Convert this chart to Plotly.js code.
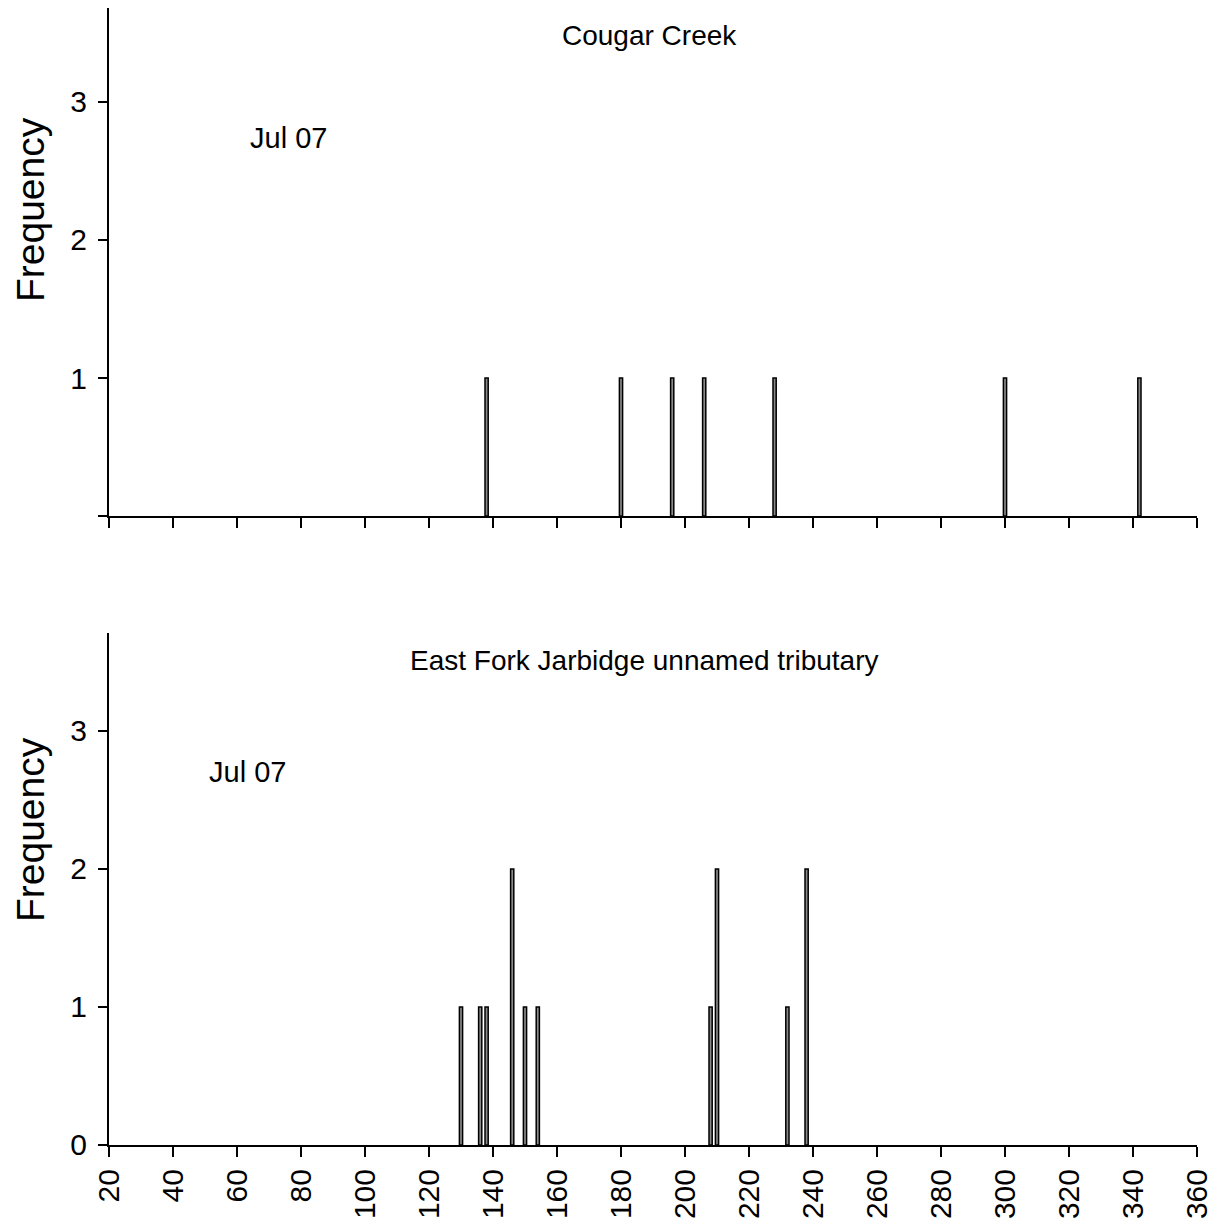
<!DOCTYPE html>
<html>
<head>
<meta charset="utf-8">
<script src="https://cdn.plot.ly/plotly-3.0.1.min.js"></script>
<style>html,body{margin:0;padding:0;background:#fff;}#chart{width:1219px;height:1232px;}</style>
</head>
<body>
<div id="chart"></div>
<script>
// Data
var cougarLengths = [138, 180, 196, 206, 228, 300, 342];
var cougarFreq    = [1, 1, 1, 1, 1, 1, 1];
var eastForkLengths = [130, 136, 138, 146, 150, 154, 208, 210, 232, 238];
var eastForkFreq    = [1, 1, 1, 2, 1, 1, 1, 2, 1, 2];
var xTickVals = [20,40,60,80,100,120,140,160,180,200,220,240,260,280,300,320,340,360];
var yTickValsTop = [0, 1, 2, 3];
var yTickTextTop = ['', '1', '2', '3'];
var yTickValsBottom = [0, 1, 2, 3];
var panelTitles = ['Cougar Creek', 'East Fork Jarbidge unnamed tributary'];
var dateLabel = 'Jul 07';
var yTitle = 'Frequency';

var FONT = 'Liberation Sans, Arial, sans-serif';
var barStyle = {color: '#8a8a8a', line: {color: '#000', width: 1.5}};

var traces = [
  {type: 'bar', x: cougarLengths, y: cougarFreq, width: 1, marker: barStyle, xaxis: 'x', yaxis: 'y', hoverinfo: 'x+y'},
  {type: 'bar', x: eastForkLengths, y: eastForkFreq, width: 1, marker: barStyle, xaxis: 'x2', yaxis: 'y2', hoverinfo: 'x+y'}
];

var xBase = {
  range: [20, 360], tickvals: xTickVals, showline: true, linecolor: '#000', linewidth: 2,
  ticks: 'outside', ticklen: 10, tickwidth: 2, tickcolor: '#000', showgrid: false, zeroline: false,
  tickfont: {family: FONT, size: 30, color: '#000'}, fixedrange: true
};
var yBase = {
  showline: true, linecolor: '#000', linewidth: 2, ticks: 'outside', ticklen: 9, tickwidth: 2,
  tickcolor: '#000', showgrid: false, zeroline: false, ticklabelstandoff: 5,
  tickfont: {family: FONT, size: 30, color: '#000'}, fixedrange: true
};

var annFont = {family: FONT, size: 28, color: '#000'};
var layout = {
  width: 1219, height: 1232,
  margin: {l: 109, r: 22, t: 8, b: 87},
  paper_bgcolor: '#fff', plot_bgcolor: '#fff',
  showlegend: false, bargap: 0,
  xaxis: Object.assign({}, xBase, {domain: [0, 1], anchor: 'y', showticklabels: false}),
  yaxis: Object.assign({}, yBase, {domain: [0.5532, 1], range: [0, 3.681], tickvals: yTickValsTop, ticktext: yTickTextTop, anchor: 'x'}),
  xaxis2: Object.assign({}, xBase, {domain: [0, 1], anchor: 'y2', tickangle: -90}),
  yaxis2: Object.assign({}, yBase, {domain: [0, 0.4503], range: [0, 3.71], tickvals: yTickValsBottom, anchor: 'x2'}),
  annotations: [
    {text: panelTitles[0], xref: 'paper', yref: 'paper', x: 0.497, y: 0.976, xanchor: 'center', yanchor: 'middle', showarrow: false, font: annFont},
    {text: panelTitles[1], xref: 'paper', yref: 'paper', x: 0.492, y: 0.426, xanchor: 'center', yanchor: 'middle', showarrow: false, font: annFont},
    {text: dateLabel, xref: 'x', yref: 'y', x: 63.5, y: 2.74, xanchor: 'left', yanchor: 'middle', showarrow: false, font: {family: FONT, size: 29, color: '#000'}},
    {text: dateLabel, xref: 'x2', yref: 'y2', x: 50.5, y: 2.7, xanchor: 'left', yanchor: 'middle', showarrow: false, font: {family: FONT, size: 29, color: '#000'}},
    {text: yTitle, xref: 'paper', yref: 'paper', x: -0.0726, y: 0.8223, xanchor: 'center', yanchor: 'middle', textangle: -90, showarrow: false, font: {family: FONT, size: 39, color: '#000'}},
    {text: yTitle, xref: 'paper', yref: 'paper', x: -0.0726, y: 0.277, xanchor: 'center', yanchor: 'middle', textangle: -90, showarrow: false, font: {family: FONT, size: 39, color: '#000'}}
  ]
};

Plotly.newPlot('chart', traces, layout, {displayModeBar: false, staticPlot: true});
</script>
</body>
</html>
